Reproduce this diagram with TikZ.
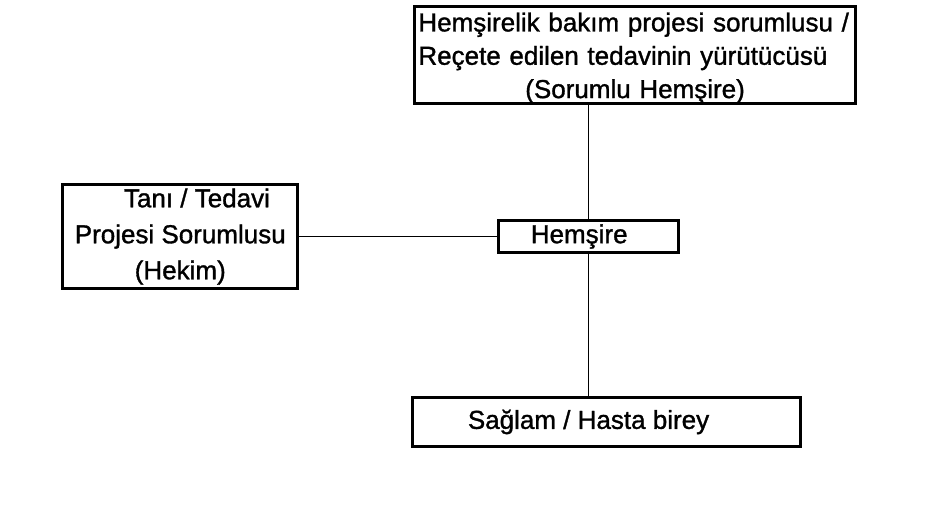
\documentclass[tikz,border=0pt]{standalone}
\usepackage{fontspec}
\setmainfont{Liberation Sans}[FakeBold=1.2]
\usetikzlibrary{positioning}

\begin{document}
\begin{tikzpicture}[
        font=\fontsize{19.5}{25}\selectfont,
        box/.style={draw, line width=2.2pt, inner sep=2pt, align=center},
        link/.style={line width=1.4pt}
    ]
        \useasboundingbox (0,0) rectangle (700.5pt,-390.75pt);
        \node[box, minimum width=135pt, minimum height=24pt] (hemsire) at (441.4pt,-177.4pt) {Hemşire\hspace*{14pt}};
        \node[box, minimum width=176pt, minimum height=78pt, left=148.5pt of hemsire, font=\fontsize{19.5}{27}\selectfont] (hekim) {\hspace*{25pt}Tanı / Tedavi\\Projesi Sorumlusu\\(Hekim)};
        \node[box, minimum height=72pt, text width=325pt, inner xsep=3pt, inner ysep=0pt, align=left, above=85.5pt of hemsire, xshift=34.9pt] (sorumlu) {\rule{0pt}{19pt}Hemşirelik bakım projesi sorumlusu /\\Reçete edilen tedavinin yürütücüsü\\\makebox[\linewidth]{(Sorumlu Hemşire)}};
        \node[box, minimum width=291pt, minimum height=36.75pt, below=106.5pt of hemsire, xshift=13.5pt] (birey) {\raisebox{-5pt}{Sağlam / Hasta birey}\hspace*{27pt}};
        \draw[link] (hemsire.north) -- (hemsire.north |- sorumlu.south);
        \draw[link] (hekim.east) -- (hemsire.west);
        \draw[link] (hemsire.south) -- (hemsire.south |- birey.north);
    \end{tikzpicture}
\end{document}
